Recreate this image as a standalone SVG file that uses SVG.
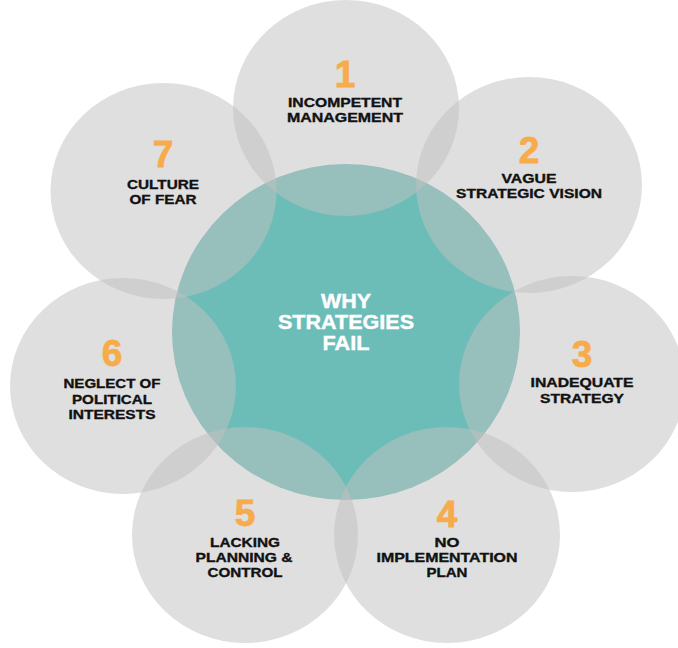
<svg xmlns="http://www.w3.org/2000/svg" width="678" height="648" viewBox="0 0 678 648">
<style>
.bub{fill:#c0c0c0;fill-opacity:0.51}
.hub{fill:#6cbdb8}
.num{font-family:"Liberation Sans",Arial,sans-serif;font-weight:bold;font-size:37px;fill:#f7ab4b;stroke:#f7ab4b;stroke-width:0.8;text-anchor:middle}
.lbl{font-family:"Liberation Sans",Arial,sans-serif;font-weight:bold;font-size:13px;fill:#111;stroke:#111;stroke-width:0.35;text-anchor:middle}
.hubt{font-family:"Liberation Sans",Arial,sans-serif;font-weight:bold;font-size:20px;fill:#fff;stroke:#fff;stroke-width:0.4;text-anchor:middle}
</style>
<rect width="678" height="648" fill="#fff"/>
<g id="center">
<ellipse class="hub" cx="346" cy="332" rx="174" ry="168"/>
</g>
<g id="n1">
<ellipse class="bub" cx="346" cy="108" rx="113" ry="108"/>
<text class="num" x="345" y="87">1</text>
<text class="lbl" x="345" y="107" textLength="114" lengthAdjust="spacingAndGlyphs">INCOMPETENT</text>
<text class="lbl" x="345" y="122" textLength="116" lengthAdjust="spacingAndGlyphs">MANAGEMENT</text>
</g>
<g id="n2">
<ellipse class="bub" cx="529" cy="185" rx="113" ry="108"/>
<text class="num" x="529" y="163">2</text>
<text class="lbl" x="529" y="183" textLength="55" lengthAdjust="spacingAndGlyphs">VAGUE</text>
<text class="lbl" x="529" y="198" textLength="146" lengthAdjust="spacingAndGlyphs">STRATEGIC VISION</text>
</g>
<g id="n3">
<ellipse class="bub" cx="572" cy="384" rx="113" ry="108"/>
<text class="num" x="582" y="367">3</text>
<text class="lbl" x="582" y="387" textLength="103" lengthAdjust="spacingAndGlyphs">INADEQUATE</text>
<text class="lbl" x="582" y="402.5" textLength="84" lengthAdjust="spacingAndGlyphs">STRATEGY</text>
</g>
<g id="n4">
<ellipse class="bub" cx="447" cy="535" rx="113" ry="108"/>
<text class="num" x="447" y="527">4</text>
<text class="lbl" x="447" y="547" textLength="25" lengthAdjust="spacingAndGlyphs">NO</text>
<text class="lbl" x="447" y="562" textLength="141" lengthAdjust="spacingAndGlyphs">IMPLEMENTATION</text>
<text class="lbl" x="447" y="577" textLength="41" lengthAdjust="spacingAndGlyphs">PLAN</text>
</g>
<g id="n5">
<ellipse class="bub" cx="245" cy="535" rx="113" ry="108"/>
<text class="num" x="245" y="526">5</text>
<text class="lbl" x="245" y="546.5" textLength="70" lengthAdjust="spacingAndGlyphs">LACKING</text>
<text class="lbl" x="244" y="561.5" textLength="97" lengthAdjust="spacingAndGlyphs">PLANNING &amp;</text>
<text class="lbl" x="245" y="576.5" textLength="75" lengthAdjust="spacingAndGlyphs">CONTROL</text>
</g>
<g id="n6">
<ellipse class="bub" cx="123" cy="386" rx="113" ry="108"/>
<text class="num" x="112" y="366">6</text>
<text class="lbl" x="112" y="388" textLength="97" lengthAdjust="spacingAndGlyphs">NEGLECT OF</text>
<text class="lbl" x="112" y="404" textLength="80" lengthAdjust="spacingAndGlyphs">POLITICAL</text>
<text class="lbl" x="112" y="418.5" textLength="87" lengthAdjust="spacingAndGlyphs">INTERESTS</text>
</g>
<g id="n7">
<ellipse class="bub" cx="163.5" cy="191" rx="113" ry="108"/>
<text class="num" x="163" y="167">7</text>
<text class="lbl" x="163" y="189" textLength="72" lengthAdjust="spacingAndGlyphs">CULTURE</text>
<text class="lbl" x="163" y="204" textLength="67" lengthAdjust="spacingAndGlyphs">OF FEAR</text>
</g>
<g id="hub-label">
<text class="hubt" x="346" y="308" textLength="50" lengthAdjust="spacingAndGlyphs">WHY</text>
<text class="hubt" x="346" y="329" textLength="136" lengthAdjust="spacingAndGlyphs">STRATEGIES</text>
<text class="hubt" x="346" y="350" textLength="47" lengthAdjust="spacingAndGlyphs">FAIL</text>
</g>
</svg>
